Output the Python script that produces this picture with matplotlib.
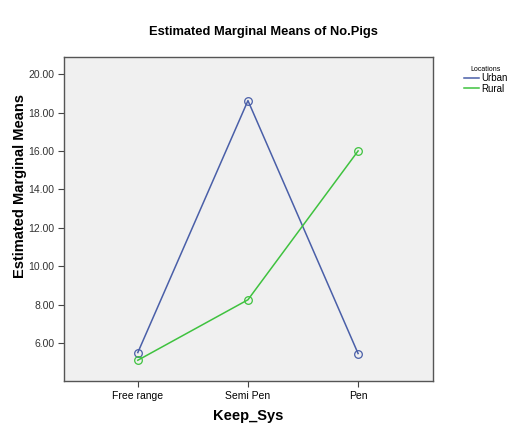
import matplotlib.pyplot as plt

# data
categories = ['Free range', 'Semi Pen', 'Pen']
urban = [5.50, 18.62, 5.45]
rural = [5.10, 8.25, 16.00]
yticks = [6, 8, 10, 12, 14, 16, 18, 20]

plt.rcParams['font.family'] = ['Liberation Sans', 'DejaVu Sans']

fig = plt.figure(figsize=(5.26, 4.23), dpi=100)
ax = fig.add_axes([64/526, 1-381/423, (433-64)/526, (381-57)/423])
ax.set_facecolor('#f0f0f0')

x = list(range(len(categories)))
ax.plot(x, urban, color='#4a5fa8', lw=1.1, marker='o', ms=5.5,
        mfc='none', mec='#4a5fa8', mew=0.9, label='Urban')
ax.plot(x, rural, color='#3fc23f', lw=1.1, marker='o', ms=5.5,
        mfc='none', mec='#3fc23f', mew=0.9, label='Rural')

ax.set_xlim(-0.67, 2.68)
ax.set_ylim(4.02, 20.89)
ax.set_xticks(x)
ax.set_xticklabels(categories, fontsize=7.5)
ax.set_yticks(yticks)
ax.set_yticklabels(['%.2f' % v for v in yticks], fontsize=7.5, color='#333333')
ax.tick_params(length=4, width=0.8, color='#444444', pad=3)
for s in ax.spines.values():
    s.set_color('#555555')
    s.set_linewidth(1.0)

# axis titles placed where the reference has them
fig.text(248/526, 1-416/423, 'Keep_Sys', ha='center', va='center',
         fontsize=10.5, fontweight='bold')
fig.text(20/526, 1-186/423, 'Estimated Marginal Means', ha='center', va='center',
         rotation=90, fontsize=10.5, fontweight='bold')
fig.text(263/526, 1-32/423, 'Estimated Marginal Means of No.Pigs',
         ha='center', va='center', fontsize=9.3, fontweight='bold')

leg = ax.legend(loc='upper left', bbox_to_anchor=(1.06, 1.0), frameon=False,
                fontsize=7, handlelength=1.6, handletextpad=0.2,
                labelspacing=0.05, title='Locations', title_fontsize=5)
for h in leg.get_lines():
    h.set_marker('')

fig.savefig('out.png', dpi=100)
